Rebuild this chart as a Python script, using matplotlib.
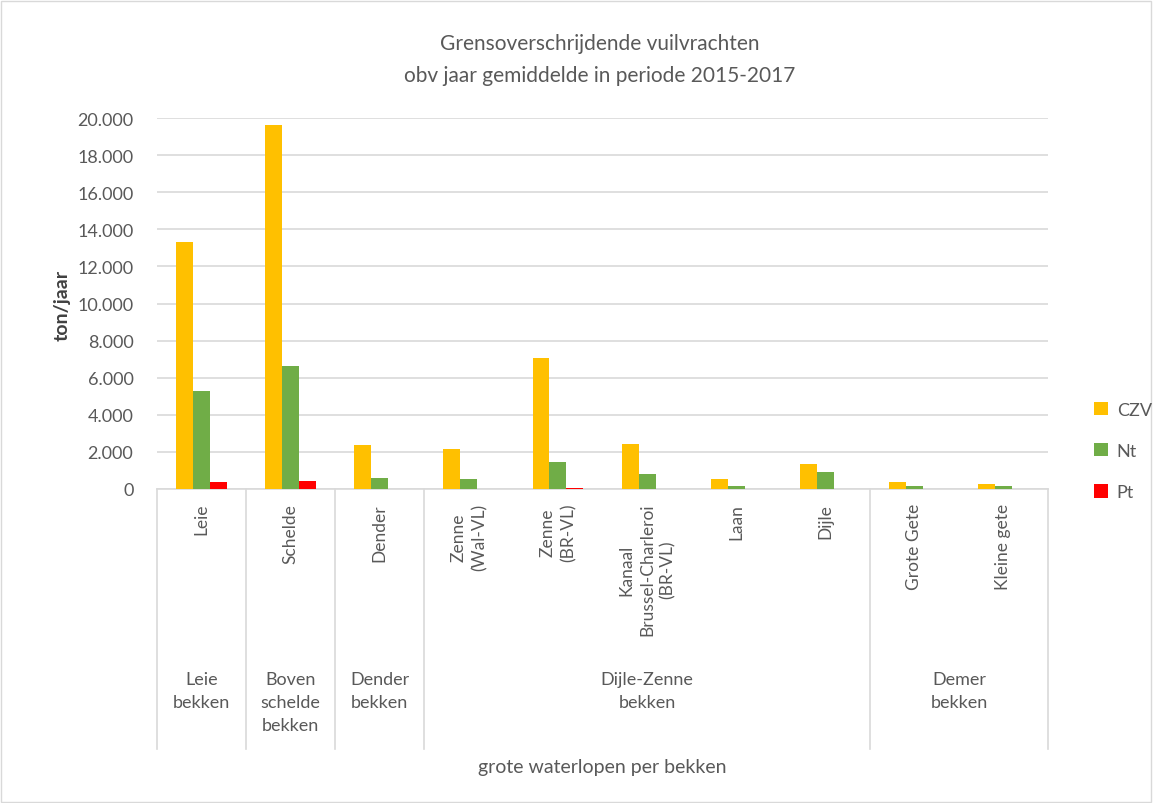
import matplotlib.pyplot as plt
import matplotlib.patches as mpatches
import numpy as np
from matplotlib.ticker import FuncFormatter

# data (ton/jaar)
rivers = ["Leie", "Schelde", "Dender", "Zenne\n(Wal-VL)", "Zenne\n(BR-VL)",
          "Kanaal\nBrussel-Charleroi\n(BR-VL)", "Laan", "Dijle", "Grote Gete", "Kleine gete"]
czv = [13300, 19620, 2390, 2150, 7050, 2410, 540, 1350, 360, 250]
nt = [5300, 6650, 610, 555, 1470, 800, 180, 920, 180, 170]
pt = [360, 430, 0, 0, 80, 0, 0, 0, 0, 0]

basins = ["Leie\nbekken", "Boven\nschelde\nbekken", "Dender\nbekken", "Dijle-Zenne\nbekken", "Demer\nbekken"]
basin_sizes = [1, 1, 1, 5, 2]

plt.rcParams['font.family'] = ['Lato', 'DejaVu Sans']
grey = '#595959'
linegrey = '#d9d9d9'

W, H = 1153, 804
fig = plt.figure(figsize=(W/100, H/100), dpi=100)
ax = fig.add_axes([157/W, 1-490/H, (1048-157)/W, (490-119)/H])

x = np.arange(len(rivers))
w = 0.19
ax.bar(x - w, czv, w, color='#FFC000', label='CZV', zorder=3)
ax.bar(x, nt, w, color='#70AD47', label='Nt', zorder=3)
ax.bar(x + w, pt, w, color='#FF0000', label='Pt', zorder=3)

ax.set_xlim(-0.5, len(rivers) - 0.5)
ax.set_ylim(0, 20000)
ax.set_yticks(np.arange(0, 20001, 2000))
ax.yaxis.set_major_formatter(FuncFormatter(lambda v, p: "{:,.0f}".format(v).replace(",", ".")))
ax.tick_params(axis='y', length=0, labelsize=13, labelcolor=grey, pad=17)
ax.set_xticks([])
ax.grid(axis='y', color=linegrey, linewidth=1.2, zorder=0)
for s in ['top', 'right', 'left']:
    ax.spines[s].set_visible(False)
ax.spines['bottom'].set_color(linegrey)
ax.spines['bottom'].set_linewidth(1.2)

axh = 490 - 119
trans = ax.get_xaxis_transform()

# river labels (rotated)
for i, r in enumerate(rivers):
    ax.text(i, -14/axh, r, rotation=90, ha='center', va='top', multialignment='center',
            fontsize=12.5, color=grey, transform=trans, linespacing=1.35)

# basin labels and separators
edges = np.concatenate([[0], np.cumsum(basin_sizes)]) - 0.5
for e in edges:
    ax.plot([e, e], [0, -(750-490)/axh], color=linegrey, linewidth=1.2,
            transform=trans, clip_on=False)
for k, b in enumerate(basins):
    c = (edges[k] + edges[k+1]) / 2
    ax.text(c, -(672-490)/axh, b, ha='center', va='top', fontsize=13,
            color=grey, transform=trans, linespacing=1.55)

fig.text(602/W, 1-768/H, "grote waterlopen per bekken", ha='center', va='center',
         fontsize=14, color=grey)
fig.text(62/W, 1-305/H, "ton/jaar", rotation=90, ha='center', va='center',
         fontsize=14, color='#404040', fontweight='bold')
fig.text(600/W, 1-60/H, "Grensoverschrijdende vuilvrachten\nobv jaar gemiddelde in periode 2015-2017",
         ha='center', va='center', fontsize=15, color=grey, linespacing=1.7)

fig.legend(loc='center left', bbox_to_anchor=(1078/W, 1-452/H), frameon=False,
           fontsize=13, labelcolor=grey, handlelength=0.75, handleheight=0.75,
           handletextpad=0.5, labelspacing=1.4)

fig.patches.append(mpatches.Rectangle((1/W, 1/H), 1-3/W, 1-3/H, transform=fig.transFigure,
                                      fill=False, edgecolor=linegrey, linewidth=1))

fig.savefig("out.png", dpi=100)
